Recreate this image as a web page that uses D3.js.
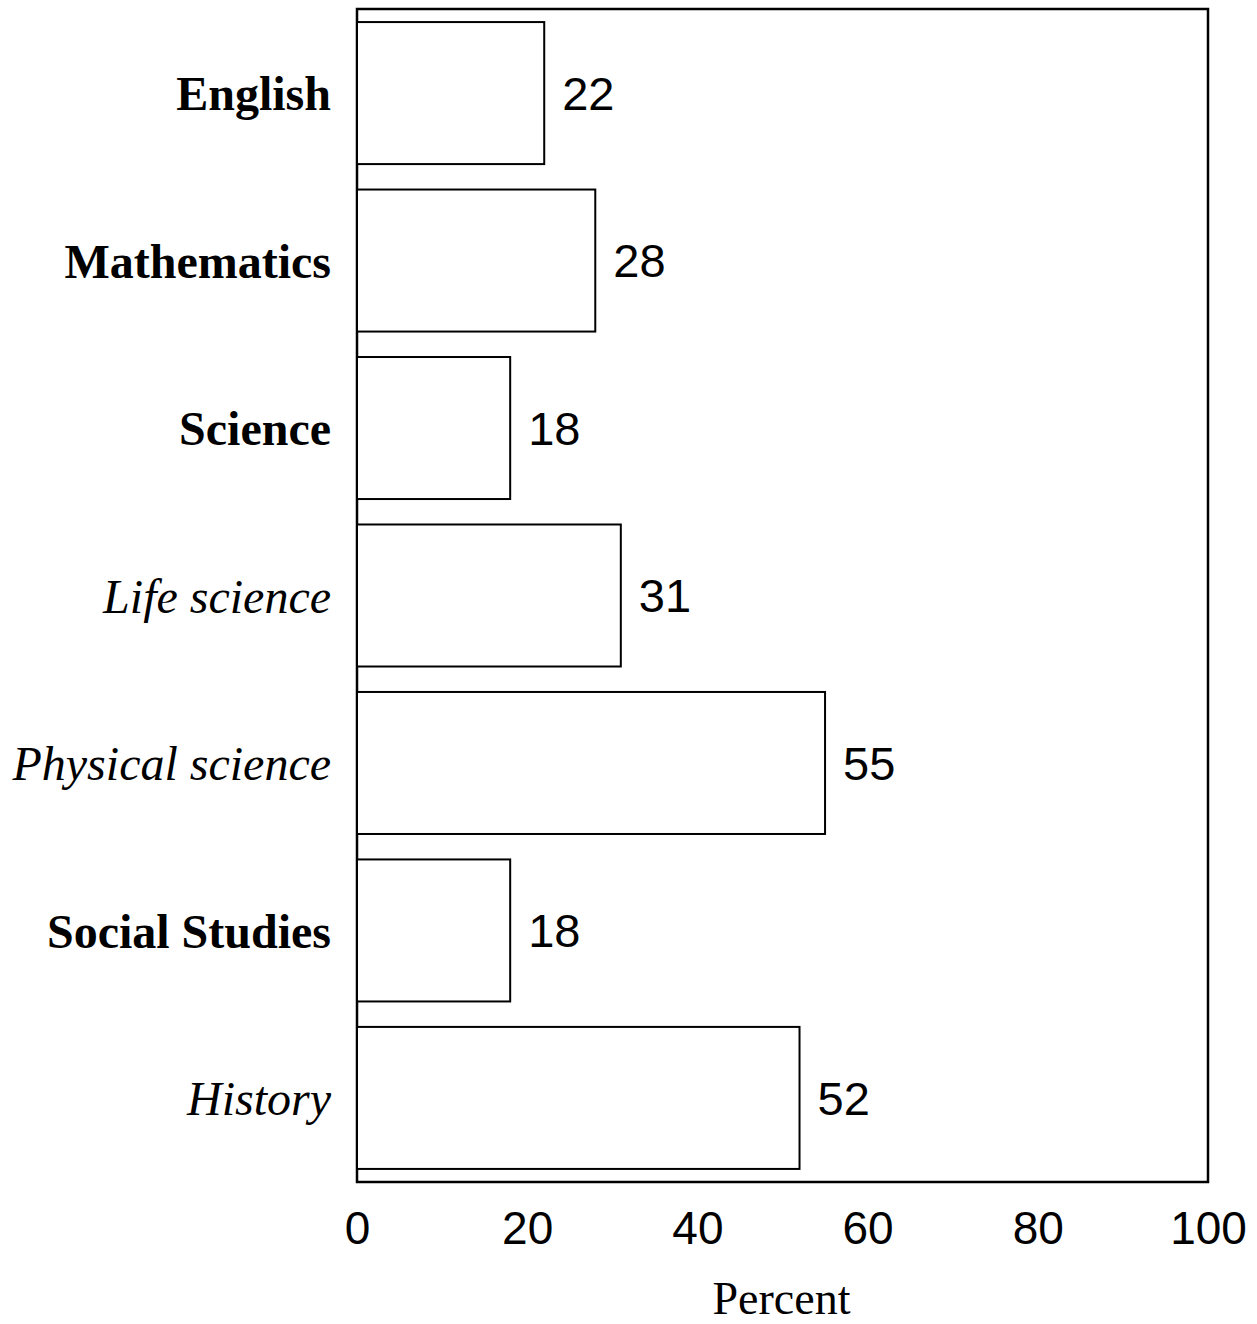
<!DOCTYPE html>
<html>
<head>
<meta charset="utf-8">
<script src="https://cdn.jsdelivr.net/npm/d3@7"></script>
<style>
  html, body { margin: 0; padding: 0; background: #fff; }
</style>
</head>
<body>
<svg id="chart" width="1257" height="1324"></svg>
<script>
// Percent by subject
const categories = ['English', 'Mathematics', 'Science', 'Life science', 'Physical science', 'Social Studies', 'History'];
const values = [22, 28, 18, 31, 55, 18, 52];
const subfields = ['Life science', 'Physical science', 'History'];
const xTicks = [0, 20, 40, 60, 80, 100];

const svg = d3.select('#chart'),
  margin = { top: 9, right: 49, bottom: 142, left: 357 },
  W = +svg.attr('width') - margin.left - margin.right,
  H = +svg.attr('height') - margin.top - margin.bottom;

const g = svg.append('g')
  .attr('transform', `translate(${margin.left},${margin.top})`);

const x = d3.scaleLinear().domain([0, 100]).range([0, W]);
const y = d3.scaleBand()
  .domain(categories)
  .range([0, H])
  .paddingInner(0.152)
  .paddingOuter(0.078);

// frame
g.append('rect')
  .attr('x', 0).attr('y', 0)
  .attr('width', W).attr('height', H)
  .attr('fill', 'none')
  .attr('stroke', '#000')
  .attr('stroke-width', 2.5);

// bars
g.selectAll('rect.bar')
  .data(categories)
  .join('rect')
  .attr('class', 'bar')
  .attr('x', x(0))
  .attr('y', d => y(d))
  .attr('width', (d, i) => x(values[i]) - x(0))
  .attr('height', y.bandwidth())
  .attr('fill', '#fff')
  .attr('stroke', '#000')
  .attr('stroke-width', 2);

// value labels
g.selectAll('text.val')
  .data(categories)
  .join('text')
  .attr('class', 'val')
  .attr('x', (d, i) => x(values[i]) + 18)
  .attr('y', d => y(d) + y.bandwidth() / 2)
  .attr('dy', '0.36em')
  .style('font-family', 'Liberation Sans, Arial, sans-serif')
  .style('font-size', '47px')
  .text((d, i) => values[i]);

// category labels
g.selectAll('text.cat')
  .data(categories)
  .join('text')
  .attr('class', 'cat')
  .attr('x', -26)
  .attr('y', d => y(d) + y.bandwidth() / 2)
  .attr('dy', '0.36em')
  .attr('text-anchor', 'end')
  .style('font-family', 'Liberation Serif, Times New Roman, serif')
  .style('font-size', '48px')
  .style('font-weight', d => subfields.includes(d) ? 'normal' : 'bold')
  .style('font-style', d => subfields.includes(d) ? 'italic' : 'normal')
  .text(d => d);

// x axis
const xAxis = g.append('g')
  .attr('transform', `translate(0,${H})`)
  .call(d3.axisBottom(x).tickValues(xTicks).tickSize(0).tickPadding(29));
xAxis.select('.domain').remove();
xAxis.selectAll('text')
  .attr('fill', '#000')
  .style('font-family', 'Liberation Sans, Arial, sans-serif')
  .style('font-size', '46px');

svg.append('text')
  .attr('x', margin.left + W / 2 - 1)
  .attr('y', 1314)
  .attr('text-anchor', 'middle')
  .style('font-family', 'Liberation Serif, Times New Roman, serif')
  .style('font-size', '46px')
  .text('Percent');
</script>
</body>
</html>
